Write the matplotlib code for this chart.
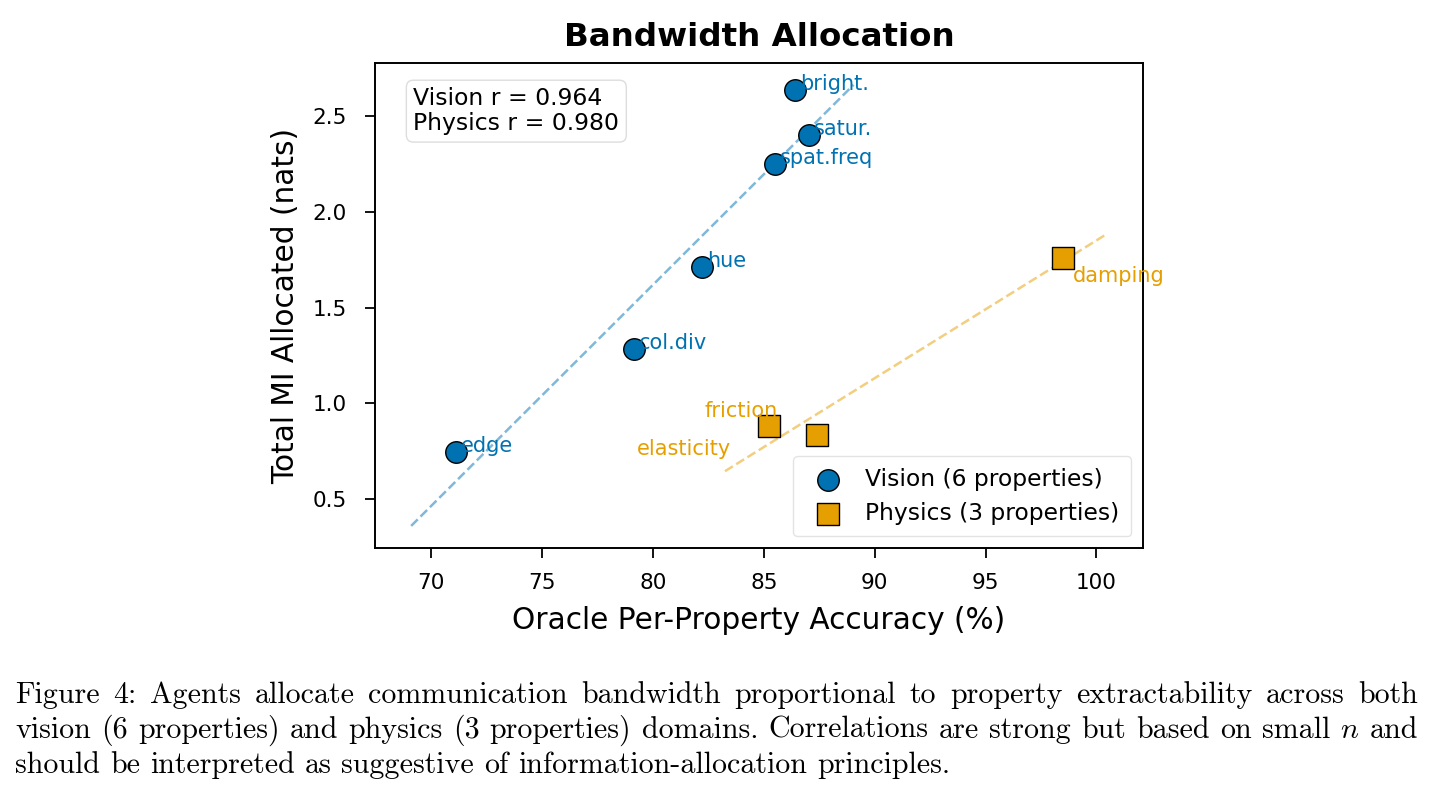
import numpy as np
import matplotlib
matplotlib.use("Agg")
import matplotlib.pyplot as plt

# vision properties
vision_names = ['edge', 'col.div', 'hue', 'spat.freq', 'satur.', 'bright.']
vision_acc = [71.1, 79.15, 82.2, 85.5, 87.05, 86.4]
vision_mi = [0.745, 1.285, 1.71, 2.25, 2.40, 2.635]

# physics properties
physics_names = ['elasticity', 'friction', 'damping']
physics_acc = [85.25, 87.4, 98.5]
physics_mi = [0.88, 0.835, 1.76]

vision_r = 0.964
physics_r = 0.980

blue = '#0072B2'
orange = '#E69F00'

W, H = 1435, 797
fig = plt.figure(figsize=(W / 100, H / 100), dpi=100)
ax = fig.add_axes([375 / W, 1 - 548 / H, (1143 - 375) / W, (548 - 63) / H])

ax.scatter(vision_acc, vision_mi, s=240, c=blue, marker='o', edgecolors='black',
           linewidths=1.0, zorder=3, label='Vision (6 properties)')
ax.scatter(physics_acc, physics_mi, s=230, c=orange, marker='s', edgecolors='black',
           linewidths=1.0, zorder=3, label='Physics (3 properties)')

# linear fits, extended 2 points past the data
for xs, ys, col in [(vision_acc, vision_mi, blue), (physics_acc, physics_mi, orange)]:
    k, b = np.polyfit(xs, ys, 1)
    xx = np.linspace(min(xs) - 2, max(xs) + 2, 50)
    ax.plot(xx, k * xx + b, '--', color=col, alpha=0.5, lw=1.8, zorder=2)

for name, x, y in zip(vision_names, vision_acc, vision_mi):
    ax.annotate(name, (x, y), xytext=(5, 6), textcoords='offset pixels',
                fontsize=15, color=blue, ha='left', va='center')

phys_offsets = {'elasticity': (-38, -23, 'right'), 'friction': (-39, 24, 'right'),
                'damping': (10, -18, 'left')}
for name, x, y in zip(physics_names, physics_acc, physics_mi):
    dx, dy, ha = phys_offsets[name]
    ax.annotate(name, (x, y), xytext=(dx, dy), textcoords='offset pixels',
                fontsize=15, color=orange, ha=ha, va='center')

ax.text(0.05, 0.95, f'Vision r = {vision_r:.3f}\nPhysics r = {physics_r:.3f}',
        transform=ax.transAxes, fontsize=16.9, va='top', ha='left', linespacing=1.1,
        bbox=dict(boxstyle='round,pad=0.3', facecolor='white', edgecolor='#dddddd'))

ax.set_xlim(67.47, 102.1)
ax.set_ylim(0.244, 2.777)
ax.set_xticks([70, 75, 80, 85, 90, 95, 100])
ax.set_yticks([0.5, 1.0, 1.5, 2.0, 2.5])
ax.tick_params(labelsize=15.5, width=1.3, length=7.2)
ax.tick_params(axis='x', pad=11)
ax.tick_params(axis='y', pad=13)
for sp in ax.spines.values():
    sp.set_linewidth(1.4)

ax.set_xlabel('Oracle Per-Property Accuracy (%)', fontsize=21.3, labelpad=9)
ax.set_ylabel('Total MI Allocated (nats)', fontsize=21.3, labelpad=9)
ax.set_title('Bandwidth Allocation', fontsize=23.4, fontweight='bold', pad=12)

ax.legend(loc='lower right', fontsize=16.8, frameon=True, edgecolor='#dddddd',
          borderpad=0.5, handletextpad=0.6, labelspacing=0.45)

# caption, justified by hand
plt.rcParams['mathtext.fontset'] = 'cm'
cap_lines = [
    'Figure 4: Agents allocate communication bandwidth proportional to property extractability across both',
    'vision (6 properties) and physics (3 properties) domains. Correlations are strong but based on small $n$ and',
    'should be interpreted as suggestive of information-allocation principles.',
]
cap_base = [703, 738, 773]
cap_left, cap_right = 15, 1418
cap_size = 21.6
renderer = fig.canvas.get_renderer()
for i, line in enumerate(cap_lines):
    words = line.split(' ')
    texts = [fig.text(0, 1 - cap_base[i] / H, w, family='cmr10', fontsize=cap_size,
                      va='baseline', ha='left') for w in words]
    widths = [t.get_window_extent(renderer).width for t in texts]
    if i < len(cap_lines) - 1:
        gap = (cap_right - cap_left - sum(widths)) / (len(words) - 1)
    else:
        gap = 0.333 * cap_size * 100 / 72
    x = cap_left
    for t, w in zip(texts, widths):
        t.set_x(x / W)
        x += w + gap

fig.savefig('out.png', dpi=100)
